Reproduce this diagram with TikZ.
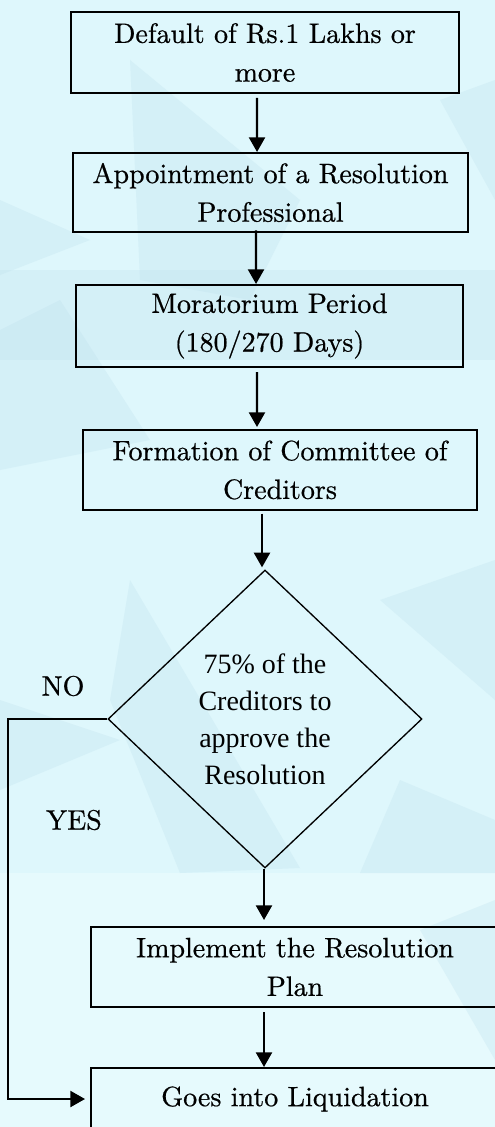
\documentclass[tikz,border=0pt]{standalone}
\usepackage{fontspec}
\newfontfamily\timesfont{Liberation Serif}
\newfontfamily\boxfont{lmroman10-regular.otf}[FakeBold=0.6]
\usetikzlibrary{shapes.geometric, arrows.meta, positioning, calc}
\definecolor{bgbase}{RGB}{222,247,252}
\definecolor{bgdark}{RGB}{190,224,237}
\definecolor{bglight}{RGB}{230,250,253}
\tikzset{
  stepbox/.style={draw, line width=1.5pt, align=center, inner sep=0pt, font=\boxfont\fontsize{21}{29}\selectfont},
  decision/.style={diamond, draw, line width=1pt, align=center, inner sep=0pt, font=\timesfont\fontsize{21}{27.75}\selectfont},
  flow/.style={-{Triangle[length=11pt,width=12pt]}, line width=1.7pt}, % filled head
  answer/.style={font=\boxfont\fontsize{21}{25}\selectfont},
  shade/.style={fill=bgdark, opacity=.3},
}

\begin{document}
\begin{tikzpicture}[x=0.75pt, y=-0.75pt]
	\useasboundingbox (0,0) rectangle (495,1127);

	% background
	\fill[bgbase] (0,0) rectangle (495,1127);
	\fill[bglight] (0,873) rectangle (495,1127);
	\fill[shade] (130,60) -- (300,200) -- (250,300) -- (140,280) -- cycle;
	\fill[shade] (0,200) -- (90,240) -- (0,275) -- cycle;
	\fill[shade] (0,330) -- (60,300) -- (150,440) -- (0,470) -- cycle;
	\fill[shade] (0,270) rectangle (495,360);
	\fill[shade] (130,580) -- (300,868) -- (180,873) -- (110,700) -- cycle;
	\fill[shade] (0,700) -- (120,740) -- (0,790) -- cycle;
	\fill[shade] (380,600) -- (495,560) -- (495,700) -- cycle;
	\fill[shade] (400,780) -- (495,820) -- (495,873) -- (360,873) -- cycle;
	\fill[shade] (440,100) -- (495,80) -- (495,200) -- cycle;
	\fill[shade] (420,930) -- (495,900) -- (495,1060) -- cycle;

	\node[stepbox, minimum width=291pt, minimum height=60.75pt] (default) at (265,52.5) {Default of Rs.1 Lakhs or\\more};
	\node[stepbox, minimum width=296.25pt, minimum height=59.25pt] (rp) at (270.5,192.5) {Appointment of a Resolution\\Professional};
	\node[stepbox, minimum width=290.25pt, minimum height=61.5pt] (moratorium) at (269.5,326) {Moratorium Period\\(180/270 Days)};
	\node[stepbox, minimum width=295.5pt, minimum height=60pt] (coc) at (280,470) {Formation of Committee of\\Creditors};
	\node[decision, minimum width=235.5pt, minimum height=223.5pt] (vote) at (265,719) {75\%\ of the\\Creditors to\\approve the\\Resolution};
	\node[stepbox, minimum width=306pt, minimum height=60pt] (plan) at (295,967) {Implement the Resolution\\Plan};
	\node[stepbox, minimum width=306pt, minimum height=46.5pt] (liq) at (295,1099) {Goes into Liquidation};

	\node[answer] (no) at (63,686) {NO};
	\node[answer] (yes) at (74,820) {YES};
	\coordinate (nobend) at (8,720);

	\draw[flow] ([xshift=-6pt, yshift=-3pt]default.south) -- ([xshift=-10.1pt]rp.north);
	\draw[flow] ([xshift=-10.9pt, yshift=2pt]rp.south) -- ([xshift=-10.1pt]moratorium.north);
	\draw[flow] ([xshift=-9.4pt, yshift=-3pt]moratorium.south) -- ([xshift=-17.25pt, yshift=1.5pt]coc.north);
	\draw[flow] ([xshift=-13.5pt, yshift=-2pt]coc.south) -- ([xshift=-2.25pt, yshift=1.5pt]vote.north);
	\draw[flow] ([xshift=-0.75pt]vote.south) -- ([xshift=-23.25pt, yshift=4.5pt]plan.north);
	\draw[flow] ([xshift=-23.25pt, yshift=-3pt]plan.south) -- ([xshift=-23.25pt]liq.north);
	\draw[flow] (vote.west) -- (vote.west -| nobend) |- ([xshift=-3.75pt]liq.west);
\end{tikzpicture}
\end{document}
